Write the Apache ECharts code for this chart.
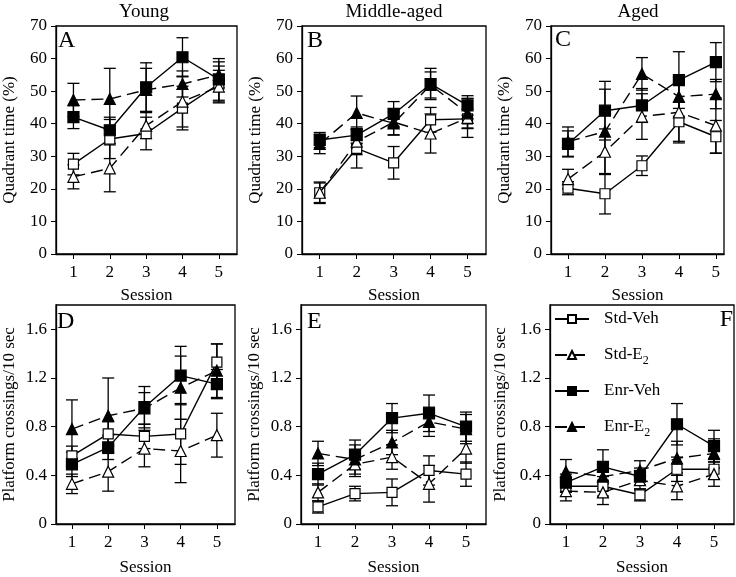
<!DOCTYPE html>
<html>
<head>
<meta charset="utf-8">
<script src="https://cdn.jsdelivr.net/npm/echarts@6/dist/echarts.min.js"></script>
<style>
html,body{margin:0;padding:0;background:#fff;}
#chart{width:736px;height:577px;}
</style>
</head>
<body>
<div id="chart"></div>
<script>
// ---------- data ----------
const seriesNames = ['Std-Veh', 'Std-E2', 'Enr-Veh', 'Enr-E2'];
const sessions = [1, 2, 3, 4, 5];
const timeTicks = [0, 10, 20, 30, 40, 50, 60, 70];
const crossTicks = [0, 0.4, 0.8, 1.2, 1.6];
const panelTitles = ['Young', 'Middle-aged', 'Aged'];
const panelLetters = ['A', 'B', 'C', 'D', 'E', 'F'];

// Quadrant time (%) — order: Std-Veh, Std-E2, Enr-Veh, Enr-E2
const youngTimeMean = [[27.6, 35.3, 37.0, 44.8, 52.2], [23.7, 26.3, 39.4, 46.8, 51.4], [42.0, 38.0, 51.2, 60.4, 53.6], [47.3, 47.6, 50.4, 52.2, 55.0]];
const youngTimeSem  = [[3.3, 6.0, 5.0, 6.7, 5.5], [3.7, 7.2, 4.0, 7.8, 5.0], [3.5, 4.0, 7.5, 6.0, 6.4], [5.1, 9.4, 6.6, 4.0, 4.0]];
const midTimeMean   = [[18.8, 32.4, 28.0, 41.2, 41.5], [18.8, 34.5, 40.5, 37.0, 41.8], [35.0, 36.5, 43.0, 52.2, 45.6], [33.8, 43.3, 40.1, 51.9, 43.2]];
const midTimeSem    = [[3.3, 6.0, 5.0, 3.8, 3.0], [3.0, 4.0, 4.0, 6.0, 6.0], [2.3, 2.5, 3.8, 4.8, 3.0], [3.0, 5.2, 3.5, 4.0, 4.5]];
const agedTimeMean  = [[20.2, 18.5, 27.1, 40.6, 36.0], [23.0, 31.4, 42.2, 43.5, 39.4], [33.8, 44.0, 45.6, 53.4, 58.9], [34.5, 37.6, 55.3, 48.3, 49.1]];
const agedTimeSem   = [[2.0, 6.2, 3.0, 6.0, 5.0], [3.0, 7.0, 7.0, 9.4, 8.5], [4.0, 9.0, 5.2, 8.7, 6.0], [4.5, 13.0, 5.0, 6.0, 4.5]];

// Platform crossings / 10 sec
const youngCrossMean = [[0.56, 0.74, 0.72, 0.74, 1.33], [0.33, 0.43, 0.62, 0.60, 0.73], [0.49, 0.63, 0.96, 1.22, 1.15], [0.78, 0.89, 0.95, 1.12, 1.26]];
const youngCrossSem  = [[0.08, 0.10, 0.10, 0.25, 0.15], [0.08, 0.16, 0.15, 0.26, 0.18], [0.10, 0.10, 0.17, 0.24, 0.12], [0.24, 0.31, 0.13, 0.26, 0.22]];
const midCrossMean   = [[0.14, 0.25, 0.26, 0.44, 0.41], [0.26, 0.49, 0.55, 0.33, 0.62], [0.41, 0.57, 0.87, 0.91, 0.80], [0.58, 0.53, 0.67, 0.84, 0.78]];
const midCrossSem    = [[0.05, 0.06, 0.11, 0.12, 0.10], [0.07, 0.10, 0.10, 0.15, 0.12], [0.09, 0.12, 0.12, 0.15, 0.12], [0.10, 0.12, 0.10, 0.12, 0.12]];
const agedCrossMean  = [[0.31, 0.31, 0.24, 0.45, 0.45], [0.27, 0.26, 0.36, 0.31, 0.41], [0.34, 0.47, 0.39, 0.82, 0.64], [0.43, 0.39, 0.44, 0.54, 0.58]];
const agedCrossSem   = [[0.05, 0.08, 0.05, 0.10, 0.08], [0.08, 0.10, 0.08, 0.11, 0.10], [0.07, 0.14, 0.07, 0.17, 0.13], [0.10, 0.10, 0.08, 0.14, 0.12]];

// ---------- layout ----------
const FONT = '"Liberation Serif", "Times New Roman", serif';
const panels = [
  {mean: youngTimeMean, sem: youngTimeSem, grid: {left: 52, top: 26, width: 185, height: 228}, x: [0.52, 5.5], y: [0, 70], ticks: timeTicks, yname: 'Quadrant time (%)', gap: 38, xgap: 33},
  {mean: midTimeMean, sem: midTimeSem, grid: {left: 302, top: 26, width: 184, height: 228}, x: [0.52, 5.5], y: [0, 70], ticks: timeTicks, yname: 'Quadrant time (%)', gap: 38, xgap: 33},
  {mean: agedTimeMean, sem: agedTimeSem, grid: {left: 551, top: 26, width: 173, height: 228}, x: [0.54, 5.22], y: [0, 70], ticks: timeTicks, yname: 'Quadrant time (%)', gap: 38, xgap: 33},
  {mean: youngCrossMean, sem: youngCrossSem, grid: {left: 52, top: 305, width: 183, height: 228}, x: [0.56, 5.5], y: [0, 1.8], ticks: crossTicks, yname: 'Platform crossings/10 sec', gap: 38, xgap: 35},
  {mean: midCrossMean, sem: midCrossSem, grid: {left: 301, top: 305, width: 185, height: 228}, x: [0.54, 5.54], y: [0, 1.8], ticks: crossTicks, yname: 'Platform crossings/10 sec', gap: 38, xgap: 35},
  {mean: agedCrossMean, sem: agedCrossSem, grid: {left: 550, top: 305, width: 184, height: 228}, x: [0.57, 5.54], y: [0, 1.8], ticks: crossTicks, yname: 'Platform crossings/10 sec', gap: 41, xgap: 35}
];
const titlePos = [[144, 12], [394, 12], [638, 12]];
const letterPos = [[58, 41, 'left'], [307, 41, 'left'], [555, 40, 'left'], [57, 322, 'left'], [307, 322, 'left'], [733, 320, 'right']];

const styles = [
  {symbol: 'rect', size: 10, fill: '#fff', dash: 'solid'},
  {symbol: 'triangle', size: 11, fill: '#fff', dash: [12, 6]},
  {symbol: 'rect', size: 11, fill: '#000', dash: 'solid'},
  {symbol: 'triangle', size: 11, fill: '#000', dash: [12, 6]}
];

function errItem(params, api) {
  const x = api.value(0), m = api.value(1), e = api.value(2);
  const t = api.coord([x, m + e]);
  const b = api.coord([x, m - e]);
  const w = 6;
  const st = {stroke: '#000', lineWidth: 1.3};
  return {type: 'group', children: [
    {type: 'line', shape: {x1: t[0], y1: t[1], x2: b[0], y2: b[1]}, style: st},
    {type: 'line', shape: {x1: t[0] - w, y1: t[1], x2: t[0] + w, y2: t[1]}, style: st},
    {type: 'line', shape: {x1: b[0] - w, y1: b[1], x2: b[0] + w, y2: b[1]}, style: st}
  ]};
}

const grids = [], xAxes = [], yAxes = [], series = [];
const axisText = {color: '#000', fontFamily: FONT, fontSize: 17};
panels.forEach((p, pi) => {
  grids.push(Object.assign({show: true, borderColor: '#000', borderWidth: 1.3, backgroundColor: 'transparent'}, p.grid));
  xAxes.push({
    type: 'value', gridIndex: pi, min: p.x[0], max: p.x[1],
    name: 'Session', nameLocation: 'middle', nameGap: p.xgap,
    nameTextStyle: axisText,
    axisLine: {show: true, onZero: false, lineStyle: {color: '#000', width: 1.3}},
    axisTick: {show: true, length: 5, customValues: sessions, lineStyle: {color: '#000', width: 1}},
    axisLabel: {show: true, margin: 10, customValues: sessions, color: '#000', fontFamily: FONT, fontSize: 17},
    splitLine: {show: false}
  });
  yAxes.push({
    type: 'value', gridIndex: pi, min: p.y[0], max: p.y[1],
    name: p.yname, nameLocation: 'middle', nameGap: p.gap, nameRotate: 90,
    nameTextStyle: axisText,
    axisLine: {show: true, onZero: false, lineStyle: {color: '#000', width: 1.3}},
    axisTick: {show: true, length: 5, customValues: p.ticks, lineStyle: {color: '#000', width: 1}},
    axisLabel: {show: true, margin: 9, customValues: p.ticks, color: '#000', fontFamily: FONT, fontSize: 17},
    splitLine: {show: false}
  });
  seriesNames.forEach((name, si) => {
    const data = sessions.map((s, i) => [s, p.mean[si][i], p.sem[si][i]]);
    series.push({
      name: name + ' SEM', type: 'custom', xAxisIndex: pi, yAxisIndex: pi,
      renderItem: errItem, data: data, encode: {x: 0, y: 1}, z: 1, silent: true
    });
  });
  seriesNames.forEach((name, si) => {
    const s = styles[si];
    series.push({
      name: name, type: 'line', xAxisIndex: pi, yAxisIndex: pi,
      data: sessions.map((x, i) => [x, p.mean[si][i]]),
      symbol: s.symbol, symbolSize: s.size, showAllSymbol: true,
      lineStyle: {color: '#000', width: 1.4, type: s.dash},
      itemStyle: {color: s.fill, borderColor: '#000', borderWidth: 1.2},
      z: 3 + si, silent: true
    });
  });
});

const graphics = [];
panelTitles.forEach((t, i) => graphics.push({type: 'text', x: titlePos[i][0], y: titlePos[i][1], z: 100,
  style: {text: t, font: '19px ' + FONT, fill: '#000', textAlign: 'center', textVerticalAlign: 'middle'}}));
panelLetters.forEach((t, i) => graphics.push({type: 'text', x: letterPos[i][0], y: letterPos[i][1], z: 100,
  style: {text: t, font: '24px ' + FONT, fill: '#000', textAlign: letterPos[i][2], textVerticalAlign: 'middle'}}));

const chart = echarts.init(document.getElementById('chart'), null, {renderer: 'canvas'});
chart.setOption({
  animation: false,
  backgroundColor: '#fff',
  grid: grids,
  xAxis: xAxes,
  yAxis: yAxes,
  legend: {
    data: seriesNames, orient: 'vertical', left: 554, top: 307,
    itemWidth: 34, itemHeight: 10, itemGap: 12, padding: 0,
    selectedMode: false,
    formatter: n => n.replace('E2', 'E{sub|2}'),
    textStyle: {color: '#000', fontFamily: FONT, fontSize: 17, lineHeight: 24, padding: [0, 0, 0, 10],
      rich: {sub: {fontFamily: FONT, fontSize: 12, color: '#000', verticalAlign: 'bottom', lineHeight: 24}}}
  },
  graphic: graphics,
  series: series
});
</script>
</body>
</html>
